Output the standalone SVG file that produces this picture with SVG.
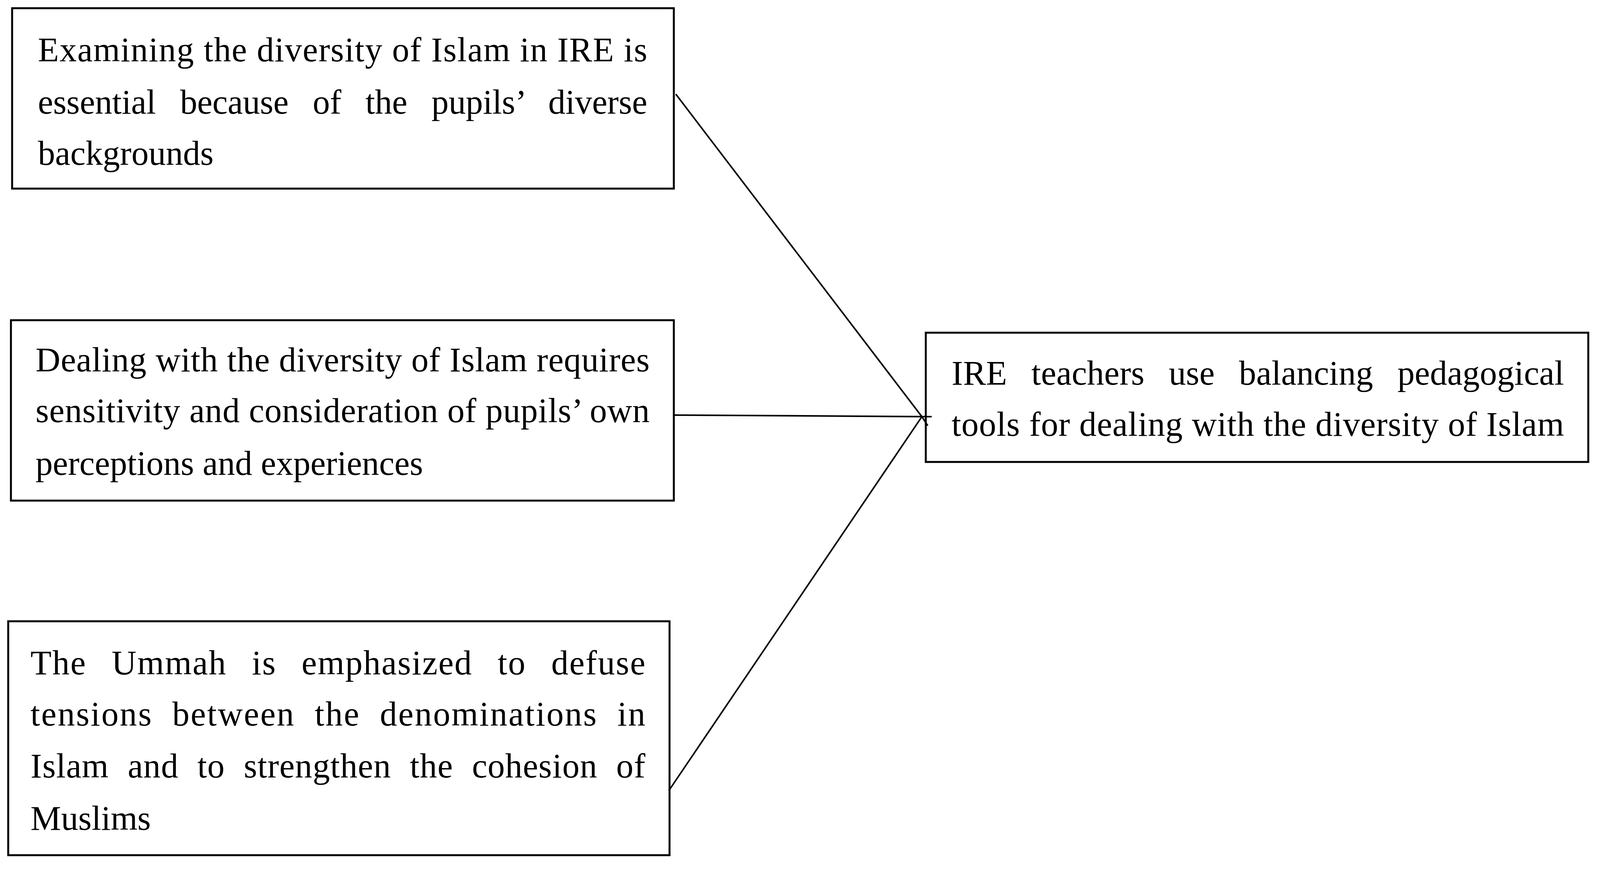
<svg xmlns="http://www.w3.org/2000/svg" width="4175" height="2251" viewBox="0 0 4175 2251">
<style>
rect{fill:#fff;stroke:#000;stroke-width:5}
text{font-family:"Liberation Serif",serif;font-size:88px;fill:#000}
line{stroke:#000;stroke-width:4}
</style>
<rect x="0" y="0" width="4175" height="2251" style="stroke:none"/>
<g id="n1"><rect x="31" y="21" width="1694" height="462"/>
<text x="97" y="157" textLength="1560" lengthAdjust="spacing">Examining the diversity of Islam in IRE is</text>
<text x="97" y="291" textLength="1560" lengthAdjust="spacing" word-spacing="40">essential because of the pupils’ diverse</text>
<text x="97" y="422">backgrounds</text></g>
<g id="n2"><rect x="28" y="820" width="1697" height="462"/>
<text x="91" y="951" textLength="1572" lengthAdjust="spacing">Dealing with the diversity of Islam requires</text>
<text x="91" y="1081" textLength="1572" lengthAdjust="spacing">sensitivity and consideration of pupils’ own</text>
<text x="91" y="1216">perceptions and experiences</text></g>
<g id="n3"><rect x="21" y="1591" width="1693" height="599"/>
<text x="78" y="1727" textLength="1574" lengthAdjust="spacing" word-spacing="40">The Ummah is emphasized to defuse</text>
<text x="78" y="1858" textLength="1574" lengthAdjust="spacing" word-spacing="25">tensions between the denominations in</text>
<text x="78" y="1991" textLength="1574" lengthAdjust="spacing" word-spacing="25">Islam and to strengthen the cohesion of</text>
<text x="78" y="2125">Muslims</text></g>
<g id="n4"><rect x="2370" y="852" width="1696" height="331"/>
<text x="2436" y="985" textLength="1568" lengthAdjust="spacing" word-spacing="40">IRE teachers use balancing pedagogical</text>
<text x="2436" y="1116" textLength="1568" lengthAdjust="spacing">tools for dealing with the diversity of Islam</text></g>
<g id="connectors">
<line x1="1730" y1="241" x2="2360" y2="1067"/>
<line x1="1725" y1="1063" x2="2385" y2="1067"/>
<line x1="1712" y1="2025" x2="2360" y2="1067"/>
<line x1="2360" y1="1067" x2="2375" y2="1090"/>
</g>
</svg>
